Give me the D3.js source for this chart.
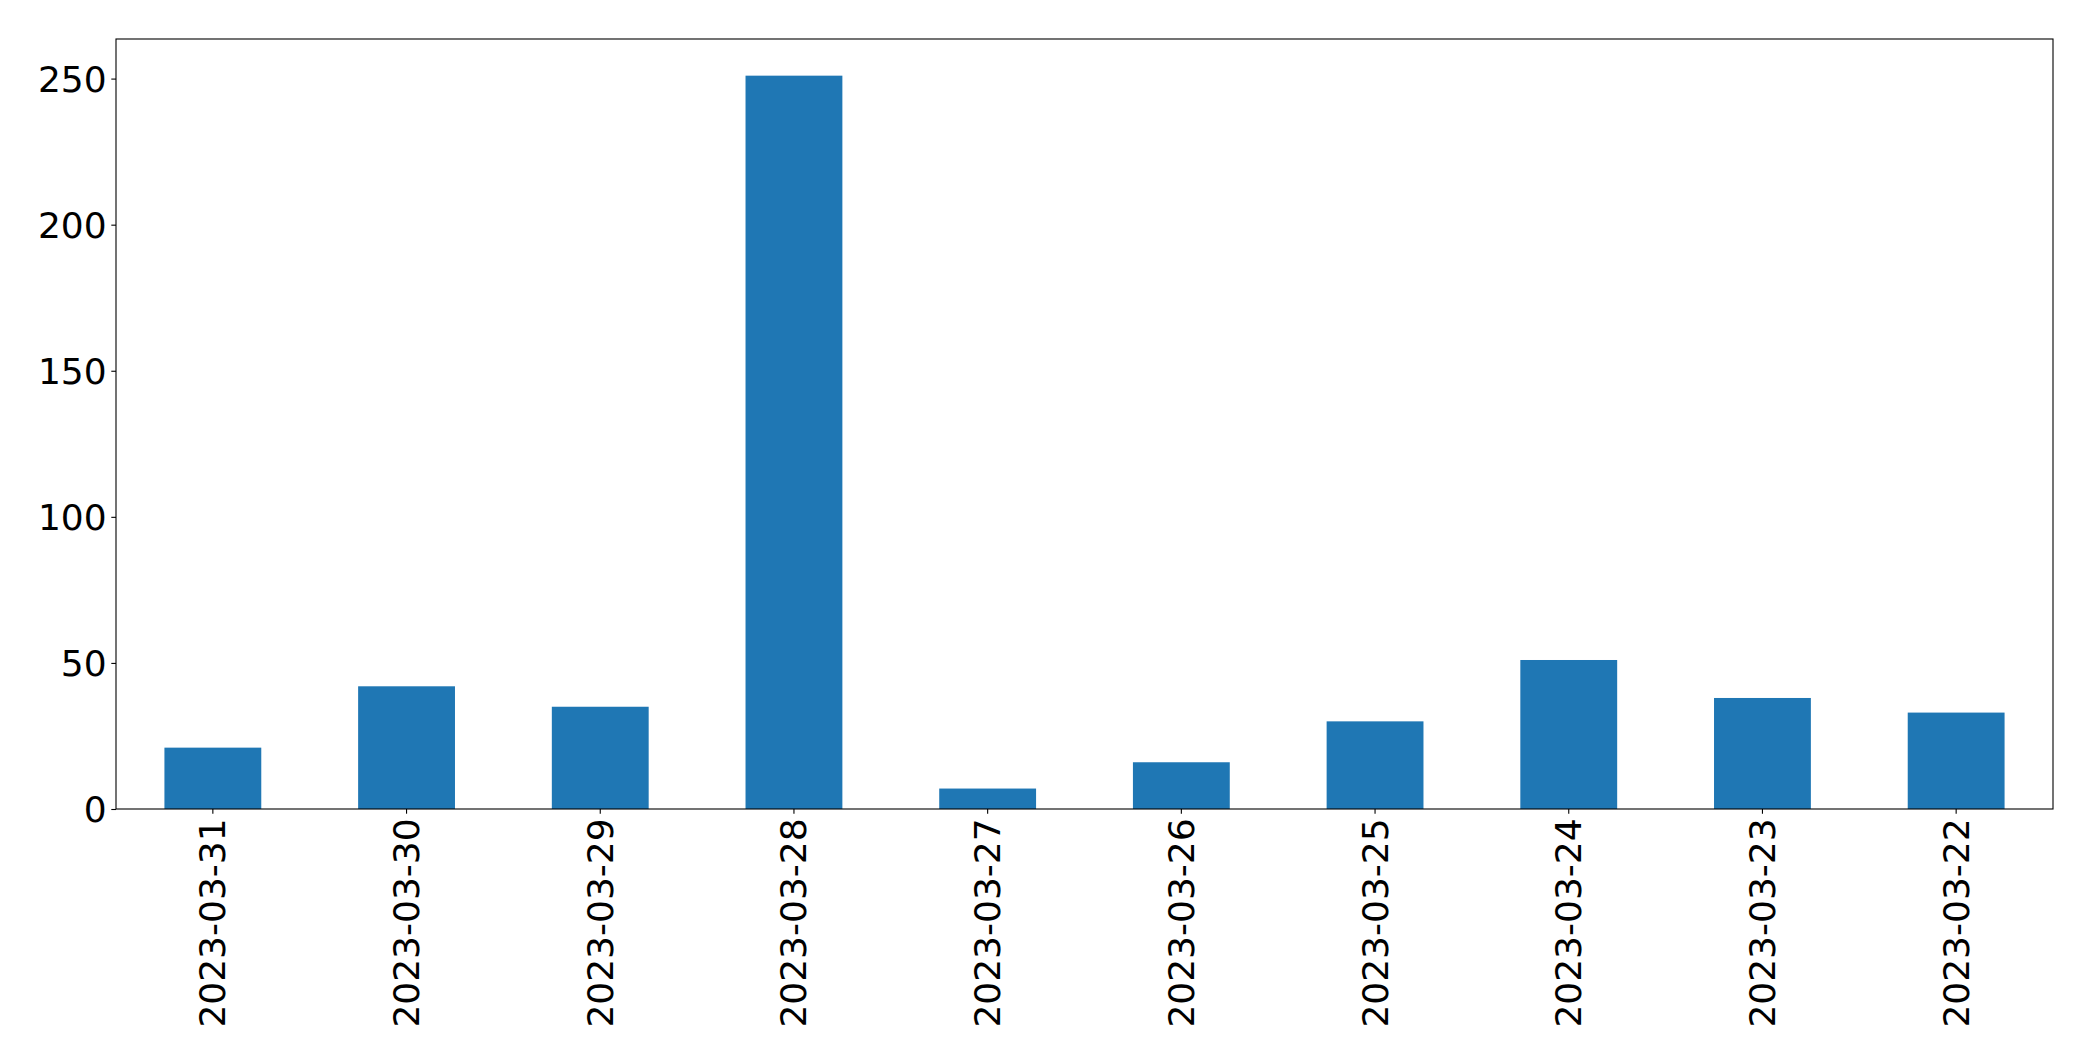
<!DOCTYPE html>
<html>
<head>
<meta charset="utf-8">
<script src="https://cdn.jsdelivr.net/npm/d3@7"></script>
<style>
  html, body { margin: 0; padding: 0; background: #fff; }
  svg { display: block; }
</style>
</head>
<body>
<svg id="chart" width="2093" height="1061"></svg>
<script>
const categories = ["2023-03-31", "2023-03-30", "2023-03-29", "2023-03-28", "2023-03-27",
                    "2023-03-26", "2023-03-25", "2023-03-24", "2023-03-23", "2023-03-22"];
const values = [21, 42, 35, 251, 7, 16, 30, 51, 38, 33];
const yTicks = [0, 50, 100, 150, 200, 250];

const W = 2093, H = 1061;
const margin = { left: 116, right: W - 2053, top: 39, bottom: H - 809 };
const fontSize = 36;
const tickLen = 4.7, tickPad = 4.7;

const svg = d3.select("#chart");
const g = svg.append("g");

const x = d3.scaleBand()
  .domain(categories)
  .range([margin.left, W - margin.right])
  .paddingInner(0.5)
  .paddingOuter(0.25);

const yMax = d3.max(values) * 1.05;
const y = d3.scaleLinear().domain([0, yMax]).range([H - margin.bottom, margin.top]);

// bars
g.selectAll("rect.bar")
  .data(values)
  .enter().append("rect")
  .attr("class", "bar")
  .attr("x", (d, i) => x(categories[i]))
  .attr("width", x.bandwidth())
  .attr("y", d => y(d))
  .attr("height", d => y(0) - y(d))
  .attr("fill", "#1f77b4");

// y axis
const yAxis = d3.axisLeft(y).tickValues(yTicks).tickSize(tickLen).tickPadding(tickPad).tickFormat(d3.format("d"));
const ya = g.append("g").attr("transform", `translate(${margin.left},0)`).call(yAxis);
ya.select(".domain").remove();
ya.selectAll("line").attr("stroke", "#000").attr("stroke-width", 1.1);
ya.selectAll("text")
  .attr("font-family", "DejaVu Sans")
  .attr("font-size", fontSize)
  .attr("fill", "#000")
  .attr("dy", "0.35em");

// x axis
const xAxis = d3.axisBottom(x).tickSize(tickLen).tickPadding(tickPad);
const xa = g.append("g").attr("transform", `translate(0,${H - margin.bottom})`).call(xAxis);
xa.select(".domain").remove();
xa.selectAll("line").attr("stroke", "#000").attr("stroke-width", 1.1);
xa.selectAll("text")
  .attr("font-family", "DejaVu Sans")
  .attr("font-size", fontSize)
  .attr("fill", "#000")
  .attr("text-anchor", "end")
  .attr("dy", null)
  .attr("dominant-baseline", "central")
  .attr("transform", `translate(0,${tickLen + tickPad}) rotate(-90)`)
  .attr("x", 0)
  .attr("y", 0);

// frame
g.append("rect")
  .attr("x", margin.left)
  .attr("y", margin.top)
  .attr("width", W - margin.left - margin.right)
  .attr("height", H - margin.top - margin.bottom)
  .attr("fill", "none")
  .attr("stroke", "#000")
  .attr("stroke-width", 1.1);
</script>
</body>
</html>
